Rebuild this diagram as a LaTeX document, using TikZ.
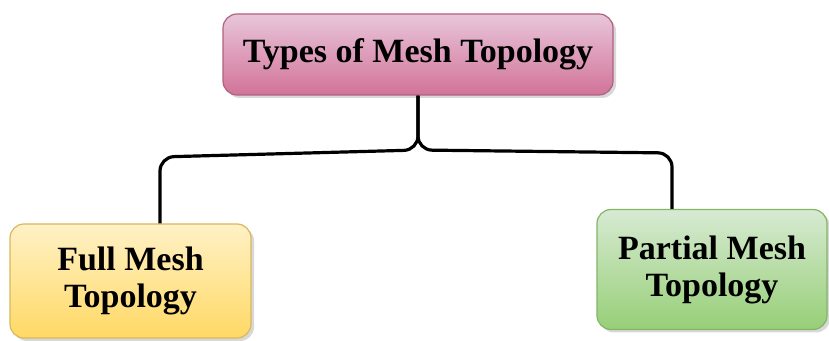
\documentclass[tikz,border=0pt]{standalone}
\usepackage{fontspec}
\setmainfont{Liberation Serif}
\usetikzlibrary{calc, shadows}
\definecolor{pinktop}{HTML}{E8C6DA}
\definecolor{pinkbot}{HTML}{D27399}
\definecolor{pinkline}{HTML}{B0617F}
\definecolor{yellowtop}{HTML}{FFF1C6}
\definecolor{yellowbot}{HTML}{FFD965}
\definecolor{yellowline}{HTML}{D8B85C}
\definecolor{greentop}{HTML}{D7EAD3}
\definecolor{greenbot}{HTML}{97CF77}
\definecolor{greenline}{HTML}{84B468}
\tikzset{
  box/.style={rounded corners=7pt, align=center, line width=0.6pt,
    font=\fontsize{17}{18.5}\selectfont\bfseries,
    drop shadow={shadow xshift=1.5pt, shadow yshift=-1.5pt, fill=gray!60, opacity=.5}},
  pinkbox/.style={box, draw=pinkline, top color=pinktop, bottom color=pinkbot},
  yellowbox/.style={box, draw=yellowline, top color=yellowtop, bottom color=yellowbot},
  greenbox/.style={box, draw=greenline, top color=greentop, bottom color=greenbot},
  link/.style={line width=1.6pt, rounded corners=7pt}
}
\begin{document}
\begin{tikzpicture}[x=0.5pt, y=-0.5pt]
      \useasboundingbox (0,0) rectangle (829,341);

      % Box for the title
      \node[pinkbox, minimum width=195pt, minimum height=40.5pt] (root) at (418,54.5) {Types of Mesh Topology};

      % Box for full mesh
      \node[yellowbox, minimum width=120.5pt, minimum height=57pt] (full) at (130.5,281) {Full Mesh\\Topology};

      % Box for partial mesh
      \node[greenbox, minimum width=115pt, minimum height=60pt] (partial) at (712,269.5) {Partial Mesh\\Topology};

      % Brace down to both boxes
      \draw[link] (root.south) -- (418,150) -- (160,157) -- ($(full.north)+(14.75pt,0)$);
      \draw[link] (root.south) -- (418,150) -- (672,153) -- ($(partial.north)+(-20pt,0)$);
\end{tikzpicture}
\end{document}
